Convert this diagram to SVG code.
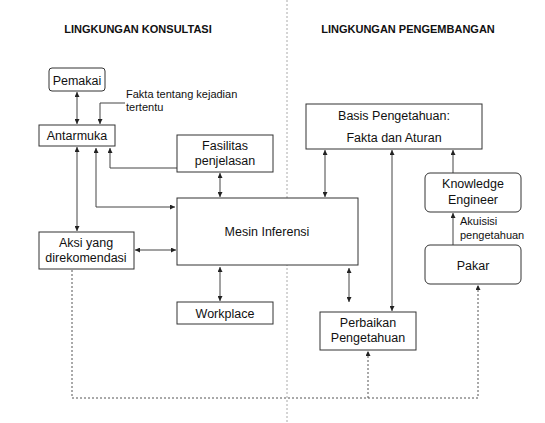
<svg xmlns="http://www.w3.org/2000/svg" width="545" height="423" viewBox="0 0 545 423">
<defs>
<marker id="ah" viewBox="0 0 10 10" refX="10" refY="5" markerWidth="5" markerHeight="5" orient="auto-start-reverse" markerUnits="userSpaceOnUse">
<path d="M0,0 L10,5 L0,10 z" fill="#222"/>
</marker>
<style>
.box{fill:#fff;stroke:#333;stroke-width:1}
.t{font-family:"Liberation Sans",Arial,sans-serif;font-size:12.5px;fill:#111;text-anchor:middle}
.s{font-family:"Liberation Sans",Arial,sans-serif;font-size:11px;fill:#111}
.h{font-family:"Liberation Sans",Arial,sans-serif;font-size:11px;font-weight:bold;fill:#111;text-anchor:middle}
.c{fill:none;stroke:#444;stroke-width:1}
.cb{marker-start:url(#ah);marker-end:url(#ah)}
.ce{marker-end:url(#ah)}
.d{fill:none;stroke:#555;stroke-width:1;stroke-dasharray:2,2}
</style>
</defs>
<rect width="545" height="423" fill="#fff"/>
<line x1="287" y1="0" x2="287" y2="423" stroke="#aaa" stroke-width="1" stroke-dasharray="2,2"/>
<text class="h" x="138" y="33">LINGKUNGAN KONSULTASI</text>
<text class="h" x="408" y="33">LINGKUNGAN PENGEMBANGAN</text>

<g id="connectors">
<line class="c cb" x1="77" y1="92" x2="77" y2="124"/>
<polyline class="c ce" points="125,103 100,103 100,124"/>
<line class="c cb" x1="77" y1="147" x2="77" y2="231"/>
<polyline class="c cb" points="96,148 96,207 175,207"/>
<polyline class="c ce" points="177,168 110,168 110,148"/>
<line class="c cb" x1="220" y1="173" x2="220" y2="197"/>
<line class="c cb" x1="135" y1="250" x2="176" y2="250"/>
<line class="c cb" x1="220" y1="267" x2="220" y2="301"/>
<line class="c cb" x1="325" y1="150" x2="325" y2="197"/>
<line class="c cb" x1="392" y1="150" x2="392" y2="311"/>
<line class="c ce" x1="453" y1="173" x2="453" y2="150"/>
<line class="c ce" x1="453" y1="245" x2="453" y2="213"/>
<line class="c cb" x1="349" y1="268" x2="349" y2="302"/>
<polyline class="d ce" points="72,270 72,398 478,398 478,285"/>
<polyline class="d ce" points="368,398 368,351"/>
</g>

<g id="pemakai"><rect class="box" x="49" y="68" width="56" height="23" rx="3"/><text class="t" x="77" y="85">Pemakai</text></g>
<g id="fakta-label"><text class="s" x="126" y="98">Fakta tentang kejadian</text><text class="s" x="126" y="111">tertentu</text></g>
<g id="antarmuka"><rect class="box" x="39" y="125" width="76" height="21"/><text class="t" x="77" y="140">Antarmuka</text></g>
<g id="fasilitas"><rect class="box" x="177" y="135" width="96" height="37"/><text class="t" x="225" y="150">Fasilitas</text><text class="t" x="225" y="165">penjelasan</text></g>
<g id="mesin"><rect class="box" x="177" y="198" width="181" height="67"/><text class="t" x="267" y="236">Mesin Inferensi</text></g>
<g id="aksi"><rect class="box" x="39" y="232" width="95" height="37"/><text class="t" x="86" y="247">Aksi yang</text><text class="t" x="86" y="262">direkomendasi</text></g>
<g id="workplace"><rect class="box" x="177" y="302" width="96" height="22"/><text class="t" x="225" y="318">Workplace</text></g>
<g id="basis"><rect class="box" x="306" y="104" width="176" height="45"/><text class="t" x="394" y="120">Basis Pengetahuan:</text><text class="t" x="394" y="142">Fakta dan Aturan</text></g>
<g id="knowledge-engineer"><rect class="box" x="425" y="173" width="96" height="39" rx="5"/><text class="t" x="473" y="188">Knowledge</text><text class="t" x="473" y="204">Engineer</text></g>
<g id="akuisisi-label"><text class="s" x="460" y="225">Akuisisi</text><text class="s" x="460" y="239">pengetahuan</text></g>
<g id="pakar"><rect class="box" x="425" y="245" width="96" height="39" rx="5"/><text class="t" x="473" y="270">Pakar</text></g>
<g id="perbaikan"><rect class="box" x="320" y="312" width="96" height="38"/><text class="t" x="368" y="327">Perbaikan</text><text class="t" x="368" y="342">Pengetahuan</text></g>
</svg>
